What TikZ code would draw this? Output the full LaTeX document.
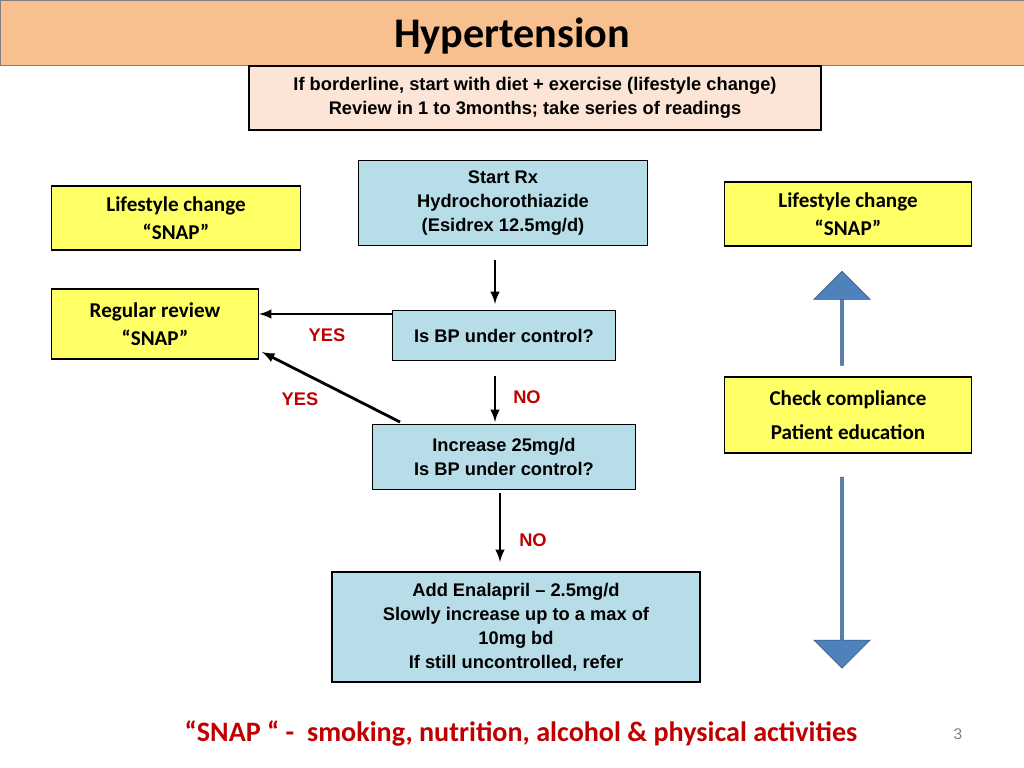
\documentclass[tikz,border=0pt]{standalone}
\usepackage{fontspec}
\setmainfont{Liberation Sans}
\newfontfamily\calib{Carlito}
\usetikzlibrary{shapes.arrows}
\definecolor{peach}{HTML}{F9C08F}
\definecolor{pinkbg}{HTML}{FCE4D6}
\definecolor{bluebox}{HTML}{B7DEE8}
\definecolor{yelbox}{HTML}{FFFF66}
\definecolor{arrblue}{HTML}{4F81BD}
\definecolor{darkred}{HTML}{C00000}
\tikzset{
  box/.style={draw=black, thick, align=center, font=\bfseries\fontsize{13}{17}\selectfont, inner sep=0pt},
  yes/.style={text=darkred, font=\bfseries\fontsize{13}{15}\selectfont},
  flow/.style={line width=2pt, -latex},
  big/.style={single arrow, draw=arrblue!60!black, fill=arrblue, minimum height=#1, single arrow head extend=4pt, minimum width=40pt, inner sep=0pt}
}
\begin{document}
\begin{tikzpicture}[x=0.025cm,y=-0.025cm]
        \useasboundingbox (0,0) rectangle (1024,768);
        \fill[peach] (0,0) rectangle (1024,65);
        \draw[gray] (0,0) rectangle (1024,65);
        \node[font=\calib\bfseries\fontsize{30}{34}\selectfont] (title) at (512,36) {Hypertension};
        \node[box, fill=pinkbg, minimum width=572*0.025cm, minimum height=64*0.025cm] (advice) at (535,98) {If borderline, start with diet + exercise (lifestyle change)\\Review in 1 to 3months; take series of readings};
        \node[box, fill=bluebox, minimum width=289*0.025cm, minimum height=85*0.025cm] (start) at (503,203) {Start Rx\\Hydrochorothiazide\\(Esidrex 12.5mg/d)};
        \node[box, fill=yelbox, font=\calib\bfseries\fontsize{15}{20}\selectfont, minimum width=249*0.025cm, minimum height=64*0.025cm] (lifeL) at (176,218) {Lifestyle change\\“SNAP”};
        \node[box, fill=yelbox, font=\calib\bfseries\fontsize{15}{20}\selectfont, minimum width=247*0.025cm, minimum height=64*0.025cm] (lifeR) at (848,214) {Lifestyle change\\“SNAP”};
        \node[box, fill=yelbox, font=\calib\bfseries\fontsize{15}{20}\selectfont, minimum width=207*0.025cm, minimum height=70*0.025cm] (review) at (155,324) {Regular review\\“SNAP”};
        \node[box, fill=bluebox, minimum width=223*0.025cm, minimum height=50*0.025cm, anchor=north, inner sep=8pt] (bp) at (504,310) {Is BP under control?};
        \node[box, fill=yelbox, font=\calib\bfseries\fontsize{15}{24}\selectfont, minimum width=247*0.025cm, minimum height=76*0.025cm] (check) at (848,415) {Check compliance\\Patient education};
        \node[box, fill=bluebox, minimum width=263*0.025cm, minimum height=65*0.025cm] (incr) at (504,457) {Increase 25mg/d\\Is BP under control?};
        \node[box, fill=bluebox, minimum width=368*0.025cm, minimum height=110*0.025cm] (enal) at (516,627) {Add Enalapril -- 2.5mg/d\\Slowly increase up to a max of\\10mg bd\\If still uncontrolled, refer};
        % flow arrows
        \coordinate (a1) at (495,260);
        \coordinate (a2) at (495,376);
        \coordinate (a3) at (500,493);
        \draw[flow] (a1) -- (495,304);
        \draw[flow] (a2) -- (495,422);
        \draw[flow] (a3) -- (500,562);
        \draw[flow] (393,314) -- (review.east |- 0,314);
        \draw[flow] (400,422) -- (262,352);
        \node[yes] (yes1) at (327,335) {YES};
        \node[yes] (yes2) at (300,399) {YES};
        \node[yes] (no1) at (527,397) {NO};
        \node[yes] (no2) at (533,540) {NO};
        % block arrows
        \node[big=94*0.025cm, rotate=90] (up) at (842,319) {};
        \node[big=191*0.025cm, rotate=-90] (down) at (842,572) {};
        \node[text=darkred, font=\calib\bfseries\fontsize{20}{24}\selectfont] (snap) at (521,733) {“SNAP “ -\ \ smoking, nutrition, alcohol \& physical activities};
        \node[text=gray, font=\fontsize{11}{13}\selectfont] (page) at (958,734) {3};
\end{tikzpicture}
\end{document}
